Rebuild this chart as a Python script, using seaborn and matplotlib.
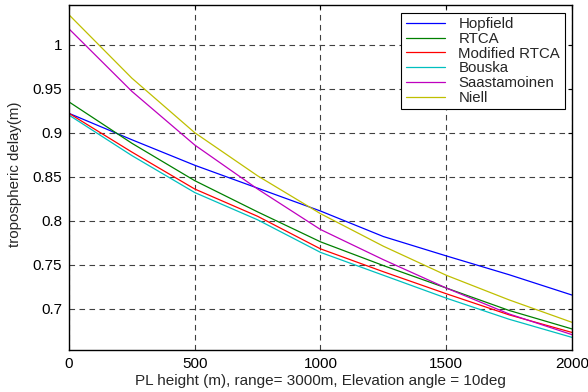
import numpy as np
import pandas as pd
import matplotlib
matplotlib.use("Agg")
import matplotlib.pyplot as plt
import seaborn as sns

height = [0, 250, 500, 750, 1000, 1250, 1500, 1750, 2000]

hopfield = [0.922, 0.892, 0.863, 0.837, 0.811, 0.782, 0.760, 0.7386, 0.7155]
rtca = [0.935, 0.888, 0.8455, 0.810, 0.776, 0.749, 0.7235, 0.698, 0.677]
modified_rtca = [0.922, 0.878, 0.836, 0.805, 0.768, 0.742, 0.717, 0.693, 0.673]
bouska = [0.920, 0.874, 0.832, 0.801, 0.764, 0.738, 0.712, 0.688, 0.6674]
saastamoinen = [1.018, 0.947, 0.886, 0.836, 0.790, 0.7557, 0.7235, 0.694, 0.6705]
niell = [1.034, 0.962, 0.900, 0.851, 0.808, 0.771, 0.738, 0.710, 0.6845]

methods = ["Hopfield", "RTCA", "Modified RTCA", "Bouska", "Saastamoinen", "Niell"]
series = [hopfield, rtca, modified_rtca, bouska, saastamoinen, niell]
colors = [(0, 0, 1), (0, 0.5, 0), (1, 0, 0), (0, 0.75, 0.75),
          (0.75, 0, 0.75), (0.75, 0.75, 0)]

df = pd.DataFrame({
    "height": height * len(methods),
    "delay": [v for s in series for v in s],
    "method": [m for m in methods for _ in height],
})

sns.set_style("white")
plt.rcParams["font.family"] = ["Liberation Sans", "DejaVu Sans"]

fig = plt.figure(figsize=(5.88, 3.92), dpi=100)
ax = fig.add_axes([0.1173, 0.107, 0.9728 - 0.1173, 0.987 - 0.107])

sns.lineplot(
    data=df,
    x="height",
    y="delay",
    hue="method",
    hue_order=methods,
    palette=colors,
    linewidth=0.9,
    ax=ax,
)

ax.set_xlim(0, 2000)
ax.set_ylim(0.653, 1.045)
ax.set_xticks([0, 500, 1000, 1500, 2000])
ax.set_yticks([0.7, 0.75, 0.8, 0.85, 0.9, 0.95, 1])
ax.set_yticklabels(["0.7", "0.75", "0.8", "0.85", "0.9", "0.95", "1"])

ax.grid(True, color="0.25", linestyle=(0, (5, 4)), linewidth=0.8)
for s in ax.spines.values():
    s.set_color("black")
    s.set_linewidth(1.0)
ax.tick_params(direction="in", length=3, top=True, right=True,
               labelsize=11, colors="black", pad=5)

ax.set_xlabel("PL height (m), range= 3000m, Elevation angle = 10deg", fontsize=11)
ax.set_ylabel("tropospheric delay(m)", fontsize=10.8)
ax.yaxis.set_label_coords(-0.093, 0.51)
ax.xaxis.set_label_coords(0.5, -0.068)

leg = ax.legend(
    loc="upper right",
    fontsize=10.8,
    frameon=True,
    fancybox=False,
    edgecolor="black",
    framealpha=1,
    borderaxespad=0.5,
    borderpad=0.3,
    handlelength=2.6,
    handletextpad=0.9,
    labelspacing=0.05,
)
leg.get_frame().set_linewidth(0.8)

fig.savefig("out.png", dpi=100)
